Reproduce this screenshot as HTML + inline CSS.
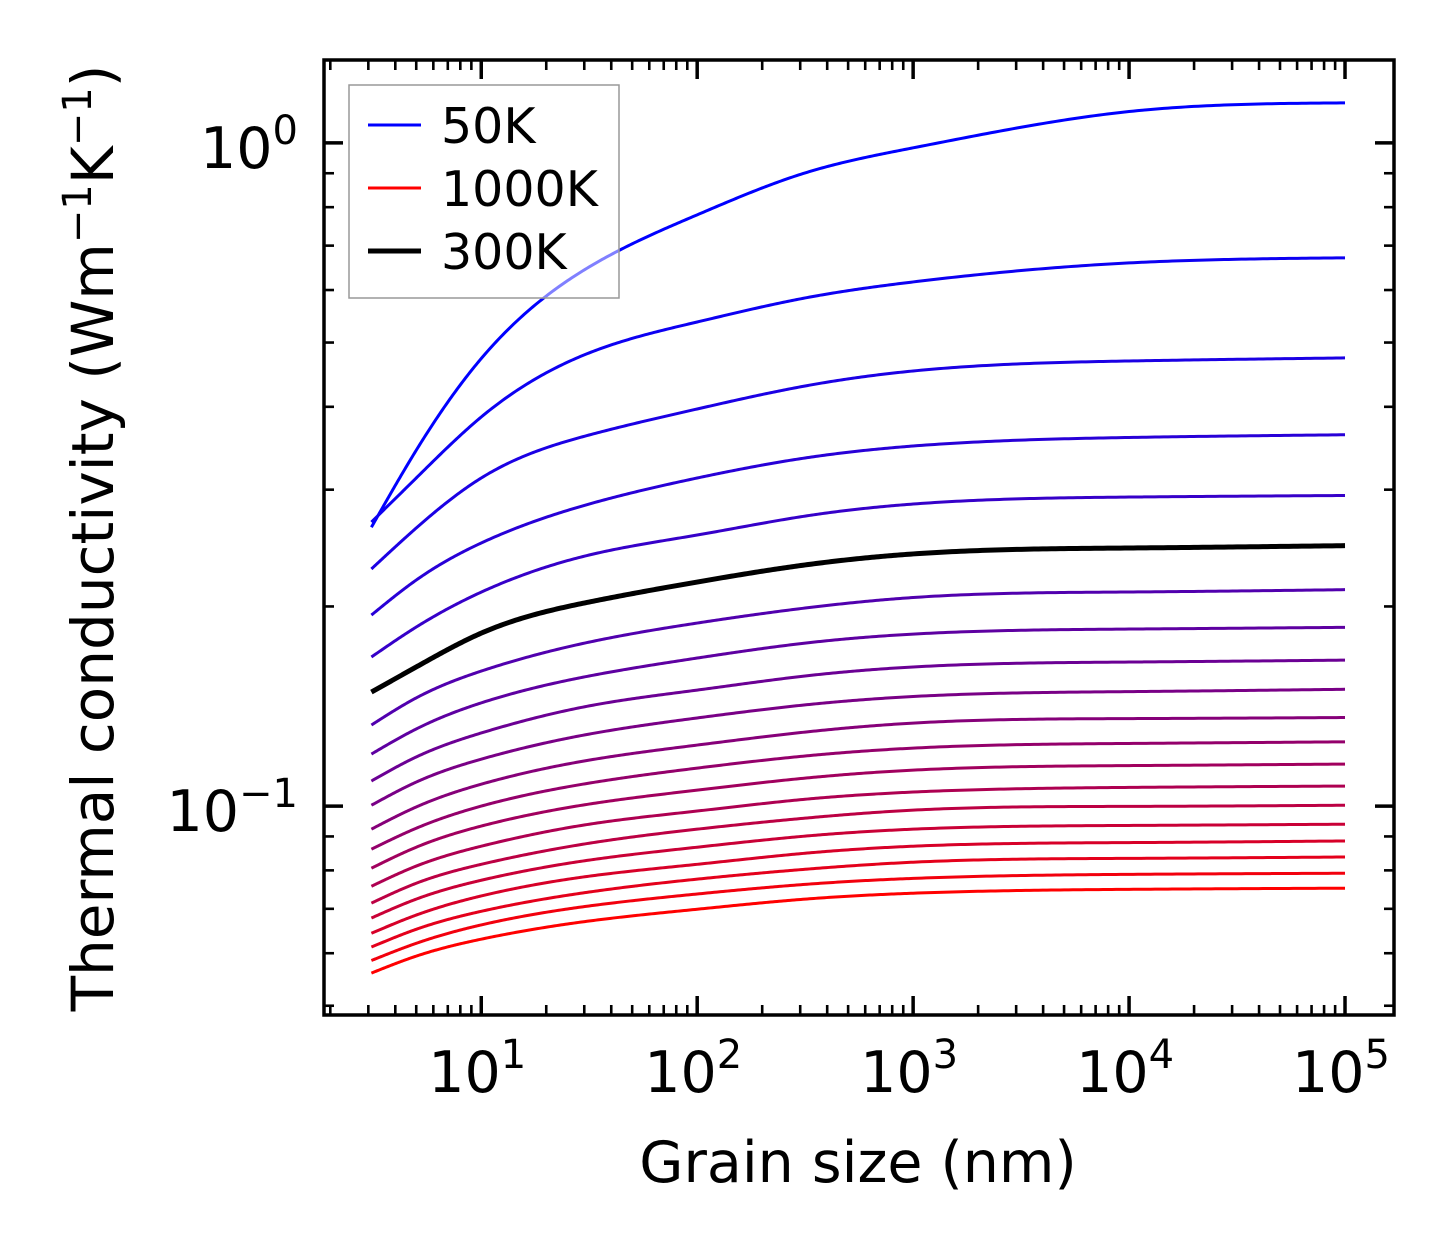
<!DOCTYPE html>
<html><head><meta charset="utf-8"><style>
html,body{margin:0;padding:0;background:#fff;}
svg{display:block;font-family:"DejaVu Sans","Liberation Sans",sans-serif;}
</style></head><body>
<svg id="chart" width="1454" height="1254" viewBox="0 0 1454 1254">
<rect width="1454" height="1254" fill="#fff"/>
<g id="curves"></g>
<g id="axes"></g>
<g id="legend"></g>
<text x="858" y="1182" font-size="57" text-anchor="middle">Grain size (nm)</text>
<text transform="translate(113,538) rotate(-90)" font-size="58" text-anchor="middle">Thermal conductivity (Wm<tspan dy="-22" font-size="40">−1</tspan><tspan dy="22">K</tspan><tspan dy="-22" font-size="40">−1</tspan><tspan dy="22">)</tspan></text>
</svg>
<script>
const grainSizes = [3.1, 5, 10, 31.6, 100, 316, 1000, 10000, 100000];
const temperatures = [50,100,150,200,250,300,350,400,450,500,550,600,650,700,750,800,850,900,950,1000];
const k50 = [0.2633, 0.344, 0.473, 0.650, 0.779, 0.901, 0.983, 1.115, 1.149];
const k100 = [0.2681, 0.3124, 0.3861, 0.4823, 0.537, 0.5837, 0.6171, 0.6592, 0.671];
const k150 = [0.2278, 0.2626, 0.3124, 0.3627, 0.397, 0.430, 0.453, 0.469, 0.474];
const k200 = [0.1941, 0.2192, 0.2493, 0.2854, 0.3124, 0.3349, 0.3491, 0.3596, 0.363];
const k250 = [0.1678, 0.1862, 0.2102, 0.2391, 0.2563, 0.2737, 0.2854, 0.2924, 0.294];
const k300 = [0.1486, 0.1621, 0.1823, 0.2031, 0.2177, 0.2310, 0.2400, 0.2450, 0.247];
const k350 = [0.1325, 0.1456, 0.1598, 0.1767, 0.1888, 0.1989, 0.2063, 0.2103, 0.212];
const k400 = [0.1198, 0.1307, 0.1431, 0.1571, 0.1672, 0.1761, 0.1817, 0.1849, 0.186];
const k450 = [0.1091, 0.1186, 0.1289, 0.1416, 0.1496, 0.1571, 0.1621, 0.1649, 0.166];
const k500 = [0.1003, 0.1087, 0.1177, 0.1284, 0.1358, 0.1421, 0.1463, 0.1488, 0.150];
const k550 = [0.0923, 0.0997, 0.1079, 0.1173, 0.1236, 0.1293, 0.1334, 0.1355, 0.136];
const k600 = [0.0861, 0.0926, 0.1000, 0.1083, 0.1141, 0.1190, 0.1223, 0.1243, 0.125];
const k650 = [0.0806, 0.0867, 0.0933, 0.1007, 0.1057, 0.1102, 0.1133, 0.1151, 0.1157];
const k700 = [0.0757, 0.0812, 0.0870, 0.0939, 0.0983, 0.1024, 0.1050, 0.1067, 0.1072];
const k750 = [0.0714, 0.0765, 0.0817, 0.0879, 0.0923, 0.0959, 0.0986, 0.0999, 0.1003];
const k800 = [0.0678, 0.0724, 0.0773, 0.0829, 0.0867, 0.0901, 0.0923, 0.0935, 0.0939];
const k850 = [0.0643, 0.0685, 0.0732, 0.0784, 0.0817, 0.0849, 0.0870, 0.0881, 0.0886];
const k900 = [0.0613, 0.0652, 0.0694, 0.0742, 0.0776, 0.0803, 0.0823, 0.0834, 0.0838];
const k950 = [0.0585, 0.0621, 0.0662, 0.0707, 0.0737, 0.0762, 0.0778, 0.0789, 0.0792];
const k1000 = [0.0560, 0.0594, 0.0630, 0.0671, 0.0699, 0.0724, 0.0739, 0.0749, 0.0752];
const series = [k50,k100,k150,k200,k250,k300,k350,k400,k450,k500,k550,k600,k650,k700,k750,k800,k850,k900,k950,k1000];
const xTickLabels = ["1","2","3","4","5"];
const yTickLabels = ["0","−1"];
const legendLabels = ["50K","1000K","300K"];

const NS = "http://www.w3.org/2000/svg";
const L = 324, R = 1394, T = 60, B = 1015;
const xLo = Math.log10(1.87), xHi = Math.log10(168600);
const yLo = -1.315, yHi = 0.125;
function xs(v){ return L + (Math.log10(v) - xLo) / (xHi - xLo) * (R - L); }
function ys(v){ return B - (Math.log10(v) - yLo) / (yHi - yLo) * (B - T); }
function mk(tag, attrs, parent){ const e = document.createElementNS(NS, tag); for (const k in attrs) e.setAttribute(k, attrs[k]); parent.appendChild(e); return e; }

function smoothPath(xv, yv){
  const X = xv.map(Math.log10), Y = yv.map(Math.log10), n = X.length;
  const h = [];
  for (let i = 0; i < n - 1; i++) h.push(X[i+1] - X[i]);
  const a = new Array(n).fill(0), b = new Array(n).fill(1), c = new Array(n).fill(0), r = new Array(n).fill(0);
  for (let i = 1; i < n - 1; i++) {
    a[i] = h[i-1]; b[i] = 2 * (h[i-1] + h[i]); c[i] = h[i];
    r[i] = 6 * ((Y[i+1] - Y[i]) / h[i] - (Y[i] - Y[i-1]) / h[i-1]);
  }
  for (let i = 1; i < n; i++) { const w = a[i] / b[i-1]; b[i] -= w * c[i-1]; r[i] -= w * r[i-1]; }
  const M = new Array(n);
  M[n-1] = r[n-1] / b[n-1];
  for (let i = n - 2; i >= 0; i--) M[i] = (r[i] - c[i] * M[i+1]) / b[i];
  const pts = [];
  for (let i = 0; i < n - 1; i++) {
    const steps = 50;
    for (let s = (i === 0 ? 0 : 1); s <= steps; s++) {
      const t = s / steps, A = 1 - t, Bt = t, hh = h[i];
      const y = A * Y[i] + Bt * Y[i+1] + ((A*A*A - A) * M[i] + (Bt*Bt*Bt - Bt) * M[i+1]) * hh * hh / 6;
      const x = X[i] + t * hh;
      pts.push(xs(Math.pow(10, x)).toFixed(2) + "," + ys(Math.pow(10, y)).toFixed(2));
    }
  }
  return "M" + pts.join(" L");
}

const curves = document.getElementById("curves");
const n = series.length;
series.forEach((vals, i) => {
  const t = i / (n - 1);
  const isBlack = temperatures[i] === 300;
  const col = isBlack ? "#000" : "rgb(" + Math.round(255 * t) + ",0," + Math.round(255 * (1 - t)) + ")";
  const p = mk("path", {d: smoothPath(grainSizes, vals), fill: "none", stroke: col, "stroke-width": isBlack ? 5 : 3, "stroke-linejoin": "round"}, curves);
  
  
});

const axes = document.getElementById("axes");
const frame = mk("rect", {x: L, y: T, width: R - L, height: B - T, fill: "none", stroke: "#000", "stroke-width": 3.5}, axes);


for (let e = 0; e <= 5; e++) {
  for (let m = 1; m <= 9; m++) {
    const v = m * Math.pow(10, e);
    const x = xs(v);
    if (x < L + 1 || x > R - 1) continue;
    const len = m === 1 ? 19 : 10;
    mk("line", {x1: x, y1: B, x2: x, y2: B - len, stroke: "#000", "stroke-width": m === 1 ? 3.5 : 2.6}, axes);
    mk("line", {x1: x, y1: T, x2: x, y2: T + len, stroke: "#000", "stroke-width": m === 1 ? 3.5 : 2.6}, axes);
    if (m === 1 && e >= 1) {
      const tx = mk("text", {x: x - 4, y: 1092, "font-size": 57, "text-anchor": "middle"}, axes);
      
      
      tx.innerHTML = '10<tspan dy="-24" font-size="40">' + xTickLabels[e - 1] + '</tspan>';
    }
  }
}
for (let e = -2; e <= 0; e++) {
  for (let m = 1; m <= 9; m++) {
    const v = m * Math.pow(10, e);
    const y = ys(v);
    if (y < T + 1 || y > B - 1) continue;
    const len = m === 1 ? 19 : 10;
    mk("line", {x1: L, y1: y, x2: L + len, y2: y, stroke: "#000", "stroke-width": m === 1 ? 3.5 : 2.6}, axes);
    mk("line", {x1: R, y1: y, x2: R - len, y2: y, stroke: "#000", "stroke-width": m === 1 ? 3.5 : 2.6}, axes);
    if (m === 1) {
      const tx = mk("text", {x: 298, y: y + 25, "font-size": 57, "text-anchor": "end"}, axes);
      
      
      tx.innerHTML = '10<tspan dy="-24" font-size="40">' + yTickLabels[-e] + '</tspan>';
    }
  }
}

const legend = document.getElementById("legend");
const box = mk("rect", {x: 349, y: 85, width: 270, height: 213, fill: "rgba(255,255,255,0.5)", stroke: "#999", "stroke-width": 1.5}, legend);


const legCols = ["#0000ff", "#ff0000", "#000"];
const legW = [3, 3, 5];
legendLabels.forEach((lab, i) => {
  const y = 125 + i * 63;
  const ln = mk("line", {x1: 368, y1: y, x2: 421, y2: y, stroke: legCols[i], "stroke-width": legW[i]}, legend);
  
  
  const tx = mk("text", {x: 441, y: y + 18, "font-size": 49}, legend);
  
  
  tx.textContent = lab;
});
</script>
</body></html>
